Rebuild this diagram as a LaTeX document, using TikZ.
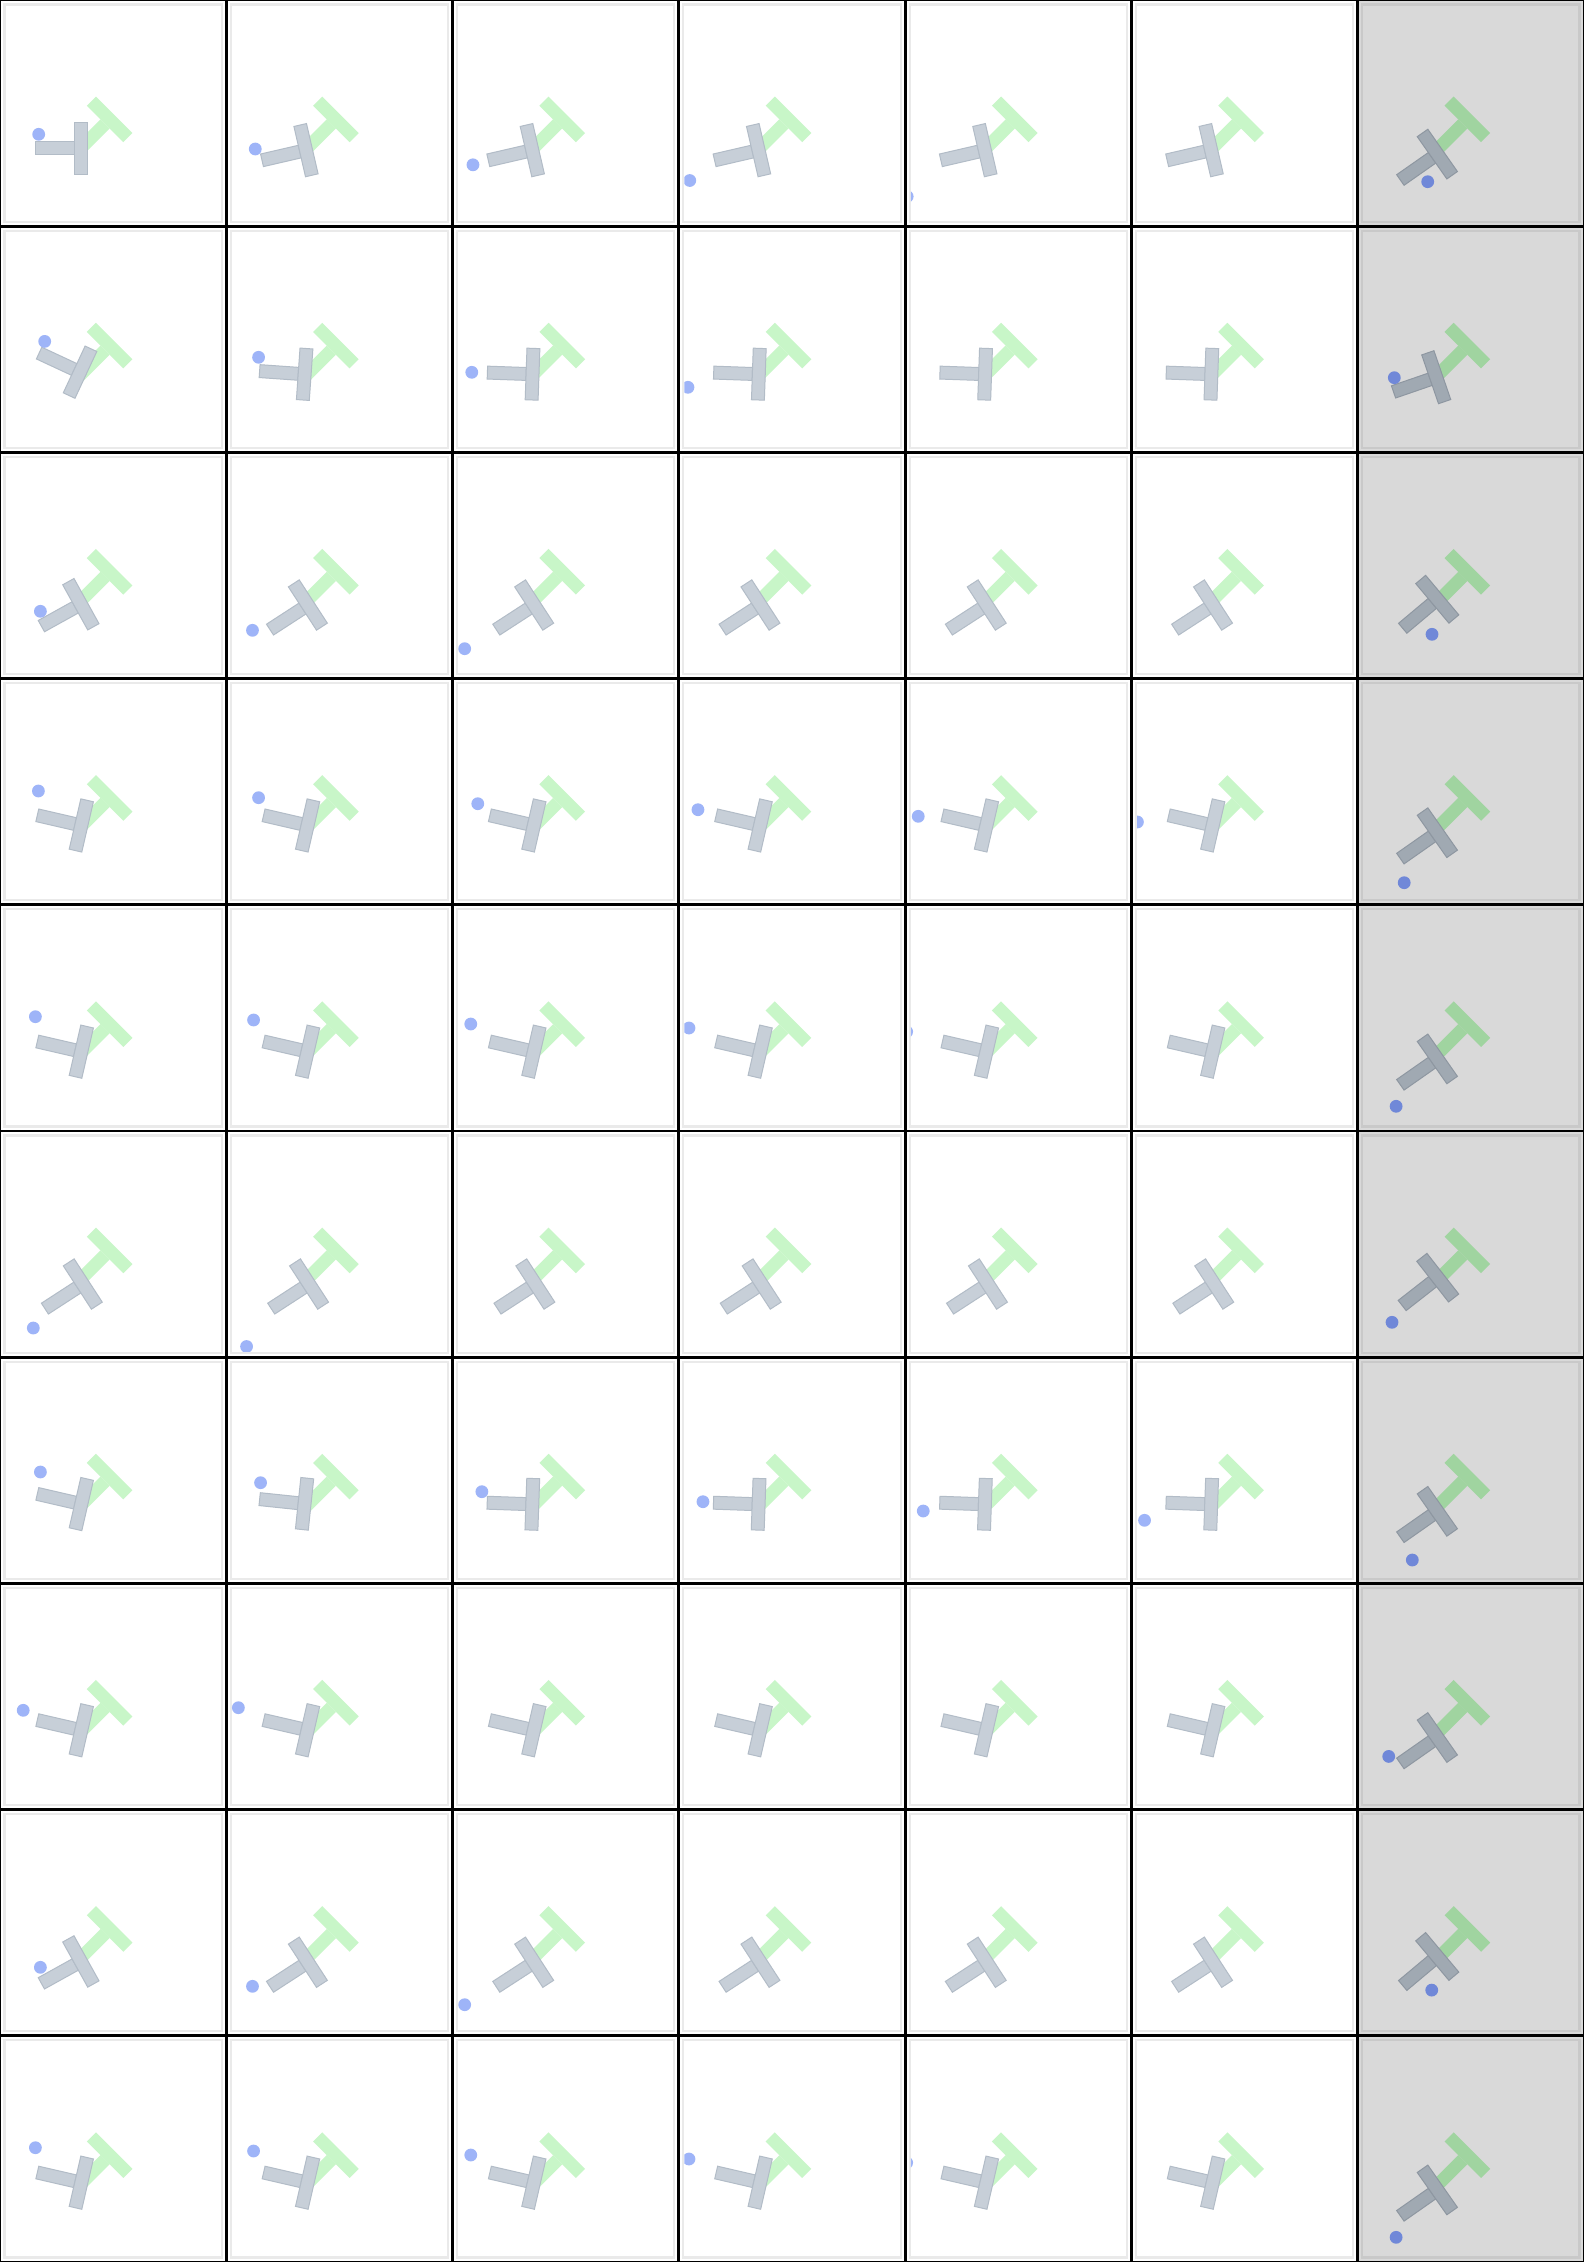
\documentclass[tikz,border=0pt]{standalone}
\usepackage{tikz}

\definecolor{goalgreen}{RGB}{200,246,200}
\definecolor{goalgreenhl}{RGB}{160,212,160}
\definecolor{blockgray}{RGB}{199,207,216}
\definecolor{blockedge}{RGB}{178,188,199}
\definecolor{blockgrayhl}{RGB}{160,169,178}
\definecolor{blockedgehl}{RGB}{142,151,161}
\definecolor{agentblue}{RGB}{158,180,248}
\definecolor{agentbluehl}{RGB}{112,136,216}
\definecolor{framebg}{RGB}{217,217,217}
\definecolor{rimlight}{RGB}{234,234,234}
\definecolor{rimdark}{RGB}{201,201,201}

% T block at pose (x, y, angle): stem first, bar on top
\newcommand{\tblock}[4]{%
  \begin{scope}[shift={(#1,#2)}, rotate=-#3]
    \path[#4] (-6.45,12.9) rectangle (6.45,51.6);
    \path[#4] (-25.8,0) rectangle (25.8,12.9);
  \end{scope}}

\begin{document}
\begin{tikzpicture}[x=1pt, y=-1pt,
    goal/.style={fill=gcol},
    block/.style={fill=tcol, draw=ecol, line width=1pt},
    agent/.style={fill=acol},
    rim/.style={draw=rcol, line width=2.2pt},
    cellframe/.style={draw=black, line width=1.4pt},
]
\useasboundingbox (0,0) rectangle (1584,2262);

% Frames: column/row/block x/block y/block angle
\foreach \c/\r/\tx/\ty/\ta in {
  0/0/87.2/148.2/90, 1/0/86/148.7/77, 2/0/86/148.7/77, 3/0/86/148.7/77, 4/0/86/148.7/77, 5/0/86/148.7/77, 6/0/84.9/150.4/55,
  0/1/85.9/148.7/115, 1/1/84.8/148.5/94, 2/1/86.4/148.2/92, 3/1/86.4/148.2/92, 4/1/86.4/148.2/92, 5/1/86.4/148.2/92, 6/1/84.6/148.9/71,
  0/2/86.5/148.7/61, 1/2/87/149.1/57, 2/2/87/149.1/57, 3/2/87/149.1/57, 4/2/87/149.1/57, 5/2/87/149.1/57, 6/2/84.5/142.7/50,
  0/3/87.6/148.3/103, 1/3/87.6/148.3/103, 2/3/87.6/148.3/103, 3/3/87.6/148.3/103, 4/3/87.6/148.3/103, 5/3/87.6/148.3/103, 6/3/84.9/150.4/55,
  0/4/87.6/148.3/103, 1/4/87.6/148.3/103, 2/4/87.6/148.3/103, 3/4/87.6/148.3/103, 4/4/87.6/148.3/103, 5/4/87.6/148.3/103, 6/4/84.9/150.4/55,
  0/5/88.2/149.5/57, 1/5/88.2/149.5/57, 2/5/88.2/149.5/57, 3/5/88.2/149.5/57, 4/5/88.2/149.5/57, 5/5/88.2/149.5/57, 6/5/85.1/142.7/52,
  0/6/87.6/148.3/103, 1/6/84.7/147.3/96, 2/6/86.2/147.3/92, 3/6/86.2/147.3/92, 4/6/86.2/147.3/92, 5/6/86.2/147.3/92, 6/6/84.9/150.4/55,
  0/7/87.6/148.3/103, 1/7/87.6/148.3/103, 2/7/87.6/148.3/103, 3/7/87.6/148.3/103, 4/7/87.6/148.3/103, 5/7/87.6/148.3/103, 6/7/84.9/150.4/55,
  0/8/86.5/148.7/61, 1/8/87/149.1/57, 2/8/87/149.1/57, 3/8/87/149.1/57, 4/8/87/149.1/57, 5/8/87/149.1/57, 6/8/84.5/142.7/50,
  0/9/87.6/148.3/103, 1/9/87.6/148.3/103, 2/9/87.6/148.3/103, 3/9/87.6/148.3/103, 4/9/87.6/148.3/103, 5/9/87.6/148.3/103, 6/9/84.9/150.4/55}{
  \ifnum\c=6
    \colorlet{bcol}{framebg}\colorlet{rcol}{rimdark}\colorlet{gcol}{goalgreenhl}
    \colorlet{tcol}{blockgrayhl}\colorlet{ecol}{blockedgehl}
  \else
    \colorlet{bcol}{white}\colorlet{rcol}{rimlight}\colorlet{gcol}{goalgreen}
    \colorlet{tcol}{blockgray}\colorlet{ecol}{blockedge}
  \fi
  \begin{scope}[shift={(\c*226.2857,\r*226.2)}]
    \fill[bcol] (0,0) rectangle (226.29,226.2);
    \begin{scope}
      \clip (5.6,5.6) rectangle (220.7,220.6);
      \tblock{114.2}{114.8}{45}{goal}
      \tblock{\tx}{\ty}{\ta}{block}
    \end{scope}
    \draw[rim] (4.5,4.5) rectangle (221.8,221.7);
    \draw[cellframe] (0.7,0.7) rectangle (225.59,225.5);
  \end{scope}
}

% Agents: column/row/x/y
\foreach \c/\r/\ax/\ay in {
  0/0/38.7/134.3, 1/0/29/149, 2/0/20.4/164.8, 3/0/10.9/180.5, 4/0/2/196.5, 6/0/70/181.7,
  0/1/44.7/115.2, 1/1/32.3/131.1, 2/1/19.2/146.1, 3/1/9.1/161.1, 4/1/-3/176, 6/1/36.6/151.5,
  0/2/40.4/158.9, 1/2/26.2/177.9, 2/2/12.1/196.3, 3/2/-3.5/213, 6/2/74.3/181.9,
  0/3/38.4/112.4, 1/3/32.3/119.1, 2/3/25.2/125.1, 3/3/19.1/131.1, 4/3/13.1/137.7, 5/3/6/143.4, 6/3/46.5/204.1,
  0/4/35.4/111.9, 1/4/27.3/115.2, 2/4/18.2/119.2, 3/4/10.1/123.2, 4/4/1.5/126.9, 6/4/38.4/201.5,
  0/5/33.3/197, 1/5/20.3/215.5, 6/5/34.3/191.3,
  0/6/40.4/114.8, 1/6/34.3/125.5, 2/6/29.3/134.5, 3/6/24.1/144.5, 4/6/18.1/153.8, 5/6/13.1/163.1, 6/6/54.6/202.8,
  0/7/23.2/126.9, 1/7/12.1/124.3, 2/7/-3/122.6, 6/7/31/173,
  0/8/40.4/157.7, 1/8/26.2/176.7, 2/8/12.1/195.1, 3/8/-3.5/212, 6/8/74/180.5,
  0/9/35.4/111.9, 1/9/27.3/115.2, 2/9/18.2/119.2, 3/9/10.1/123.2, 4/9/1.5/126.9, 6/9/38.4/201.5}{
  \ifnum\c=6 \colorlet{acol}{agentbluehl}\else\colorlet{acol}{agentblue}\fi
  \begin{scope}[shift={(\c*226.2857,\r*226.2)}]
    \clip (5.6,5.6) rectangle (220.7,220.6);
    \fill[agent] (\ax,\ay) circle[radius=6.4];
  \end{scope}
}
\end{tikzpicture}
\end{document}
